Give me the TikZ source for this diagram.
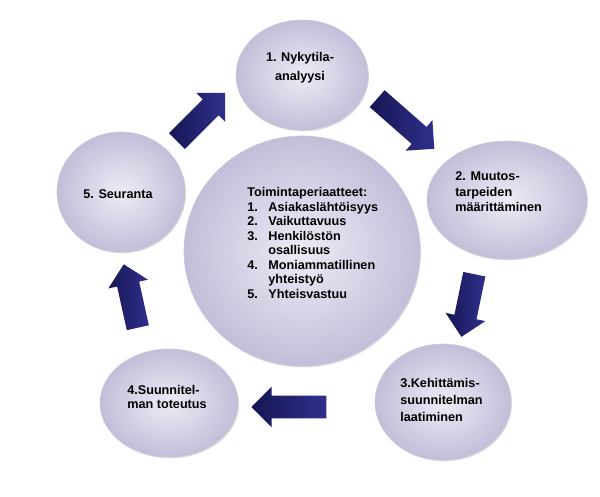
\documentclass[tikz,border=0pt]{standalone}
\usepackage{fontspec}
\setmainfont{Liberation Sans}
\usetikzlibrary{shapes,arrows,shadows,positioning,calc}
\definecolor{lavin}{RGB}{238,235,245}
\definecolor{lavout}{RGB}{196,189,217}
\definecolor{lavrim}{RGB}{205,199,222}
\definecolor{navydark}{RGB}{22,22,84}
\definecolor{navylight}{RGB}{48,48,140}

\begin{document}
\begin{tikzpicture}[x=0.025cm,y=-0.025cm,
    phase/.style={ellipse,draw=lavrim,line width=0.4pt,shading=radial,inner color=lavin,outer color=lavout,
        drop shadow={shadow xshift=0.7pt,shadow yshift=-0.9pt,opacity=0.3}},
    phasetxt/.style={inner sep=0pt,anchor=west,align=left,font=\bfseries\fontsize{9}{11}\selectfont},
    flow/.style={single arrow,single arrow head extend=0.225cm,inner xsep=0pt,inner ysep=0.275cm,
        left color=navydark,right color=navylight,draw=none}]
    % Fix picture size (pixel units)
    \useasboundingbox (0,0) rectangle (600,496);
    % Phase ellipses
    \node[phase,minimum width=5.9cm,minimum height=5.75cm] (c0) at (302,251) {};
    \node[phase,minimum width=3.3cm,minimum height=2.75cm] (c1) at (302,75) {};
    \node[phase,minimum width=4cm,minimum height=2.95cm] (c2) at (507,200) {};
    \node[phase,minimum width=3.4cm,minimum height=2.9cm] (c3) at (443,402) {};
    \node[phase,minimum width=3.45cm,minimum height=2.7cm] (c4) at (169,403) {};
    \node[phase,minimum width=3.2cm,minimum height=3cm] (c5) at (121,192) {};
    % Texts
    \node[phasetxt,anchor=center,align=center,font=\bfseries\fontsize{9}{13.5}\selectfont] (t1)
        at ([shift={(-2,-7)}]c1) {1. Nykytila-\\analyysi};
    \node[phasetxt] (t2) at ([shift={(-52,-8)}]c2) {2. Muutos-\\tarpeiden\\määrittäminen};
    \node[phasetxt,font=\bfseries\fontsize{9}{12}\selectfont] (t3) at ([shift={(-43,-2)}]c3)
        {3.Kehittämis-\\suunnitelman\\laatiminen};
    \node[phasetxt,font=\bfseries\fontsize{9}{9.5}\selectfont] (t4) at ([shift={(-42,-6)}]c4)
        {4.Suunnitel-\\man toteutus};
    \node[phasetxt] (t5) at ([shift={(-38,2)}]c5) {5. Seuranta};
    \node[phasetxt,font=\bfseries\fontsize{9}{10.3}\selectfont] (t0) at ([shift={(-55,-8)}]c0)
        {Toimintaperiaatteet:\\
         \makebox[15pt][l]{1.}Asiakaslähtöisyys\\
         \makebox[15pt][l]{2.}Vaikuttavuus\\
         \makebox[15pt][l]{3.}Henkilöstön\\
         \hspace*{15pt}osallisuus\\
         \makebox[15pt][l]{4.}Moniammatillinen\\
         \hspace*{15pt}yhteistyö\\
         \makebox[15pt][l]{5.}Yhteisvastuu};
    % Block arrows between phases
    \foreach \cx/\cy/\ang/\len/\nm in {401.5/120/-41.3/76/a12, 469/300/-101.7/64/a23,
        294.5/407/180/75/a34, 132/301.5/102.5/65/a45, 197/121/45/68/a51} {
        \node[flow,rotate=\ang,minimum height=\len*0.025cm] (\nm) at (\cx,\cy) {};
    }
\end{tikzpicture}
\end{document}
